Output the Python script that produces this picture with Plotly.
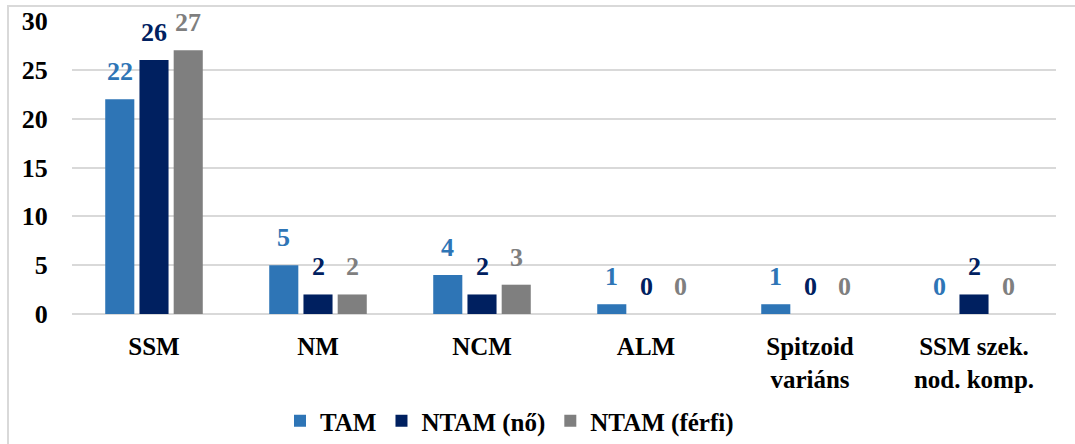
import plotly.graph_objects as go

categories = ["SSM", "NM", "NCM", "ALM", "Spitzoid<br>variáns", "SSM szek.<br>nod. komp."]
tam = [22, 5, 4, 1, 1, 0]
ntam_no = [26, 2, 2, 0, 0, 2]
ntam_ferfi = [27, 2, 3, 0, 0, 0]
series_names = ["TAM", "NTAM (nő)", "NTAM (férfi)"]
colors = ["#2E75B6", "#002060", "#7F7F7F"]
y_ticks = [0, 5, 10, 15, 20, 25, 30]

FONT = "Liberation Serif"

L, R, T, B = 72, 19, 21, 130
W, H = 1075, 444
pw = W - L - R
ph = H - T - B
BARGAP, GROUPGAP = 0.374, 0.15
slot = pw / len(categories) * (1 - BARGAP) / 3

fig = go.Figure()
annotations = []
for i, (name, vals, col) in enumerate(zip(series_names, [tam, ntam_no, ntam_ferfi], colors)):
    fig.add_trace(go.Bar(
        x=categories, y=vals, name="<b>" + name + "</b>",
        marker=dict(color=col, line=dict(width=0)),
    ))
    for c, v in zip(categories, vals):
        annotations.append(dict(
            x=c, y=v, xref="x", yref="y", text="<b>%d</b>" % v, showarrow=False,
            xanchor="center", yanchor="bottom", xshift=(i - 1) * slot, yshift=11,
            font=dict(family=FONT, size=26, color=col),
        ))

fig.update_layout(
    template="none",
    width=W, height=H,
    margin=dict(l=L, r=R, t=T, b=B, pad=0, autoexpand=False),
    paper_bgcolor="white", plot_bgcolor="white",
    barmode="group", bargap=BARGAP, bargroupgap=GROUPGAP,
    font=dict(family=FONT, size=25, color="black"),
    showlegend=True,
    legend=dict(
        orientation="h", x=(280 - L) / pw, xanchor="left",
        y=(314 - 421) / ph, yanchor="middle",
        font=dict(family=FONT, size=25, color="black"),
        bgcolor="rgba(0,0,0,0)", itemwidth=30,
    ),
    annotations=annotations,
    shapes=[dict(
        type="rect", xref="paper", yref="paper",
        x0=(8 - L) / pw, x1=1.2, y0=-0.8, y1=(314 - 6) / ph,
        line=dict(color="#D9D9D9", width=2), fillcolor="rgba(0,0,0,0)",
        layer="below",
    )],
)
fig.update_yaxes(
    range=[0, 30], tickvals=y_ticks, ticktext=["<b>%d</b>" % v for v in y_ticks],
    automargin=False,
    showgrid=True, gridcolor="#D9D9D9", gridwidth=2,
    zeroline=True, zerolinecolor="#D9D9D9", zerolinewidth=2,
    showline=False, ticks="outside", ticklen=18, tickcolor="rgba(0,0,0,0)",
    tickfont=dict(family=FONT, size=26, color="black"),
)
fig.update_xaxes(
    automargin=False,
    tickvals=categories, ticktext=["<b>" + c.replace("<br>", "</b><br><b>") + "</b>" for c in categories],
    showline=False, showgrid=False, ticks="outside", ticklen=10,
    tickcolor="rgba(0,0,0,0)",
    tickfont=dict(family=FONT, size=25, color="black"),
)

fig.write_html("out.html", config={"displayModeBar": False},
               post_script="document.body.style.margin='0';")
